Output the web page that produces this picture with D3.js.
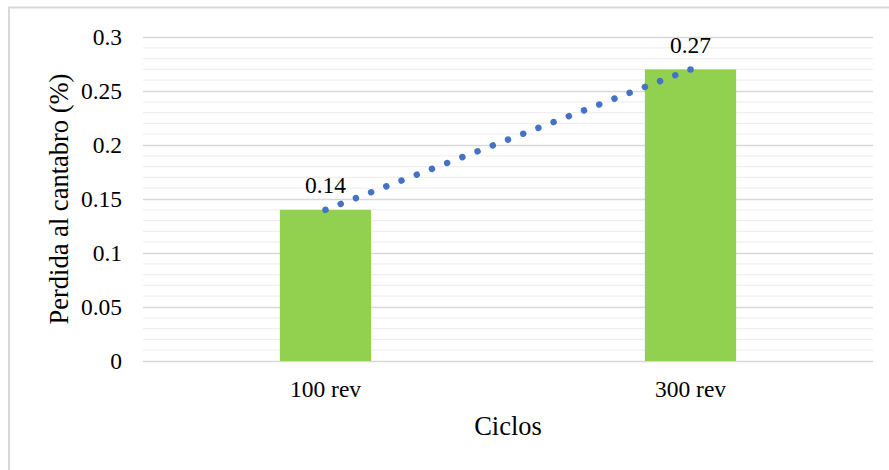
<!DOCTYPE html>
<html>
<head>
<meta charset="utf-8">
<script src="https://cdn.jsdelivr.net/npm/d3@7"></script>
<style>
  html, body { margin: 0; padding: 0; background: #fff; }
  svg { display: block; }
  text { font-family: "Liberation Serif", "Times New Roman", serif; fill: #000; }
</style>
</head>
<body>
<svg id="chart" width="889" height="470"></svg>
<script>
// Chart data
const categories = ["100 rev", "300 rev"];
const values = [0.14, 0.27];
const valueLabels = ["0.14", "0.27"];
const yTicks = [0, 0.05, 0.1, 0.15, 0.2, 0.25, 0.3];
const yTickLabels = ["0", "0.05", "0.1", "0.15", "0.2", "0.25", "0.3"];
const yTitle = "Perdida al cantabro (%)";
const xTitle = "Ciclos";

const svg = d3.select("#chart");
const plot = { left: 143, right: 873, top: 37, bottom: 361 };

// Outer chart frame
svg.append("rect")
  .attr("x", 9).attr("y", 7.5)
  .attr("width", 920).attr("height", 500)
  .attr("fill", "none")
  .attr("stroke", "#d9d9d9")
  .attr("stroke-width", 2);

const x = d3.scaleBand().domain(categories).range([plot.left, plot.right]).padding(0);
const y = d3.scaleLinear().domain([0, 0.3]).range([plot.bottom, plot.top]);

// Minor gridlines every 0.01
const minor = d3.range(1, 30).map(i => i / 100).filter(v => Math.round(v * 100) % 5 !== 0);
svg.append("g").selectAll("line").data(minor).join("line")
  .attr("x1", plot.left).attr("x2", plot.right)
  .attr("y1", d => y(d)).attr("y2", d => y(d))
  .attr("stroke", "#efefef").attr("stroke-width", 1.3);

// Major gridlines and y axis labels
const yAxis = d3.axisLeft(y).tickValues(yTicks)
  .tickFormat((d, i) => yTickLabels[i])
  .tickSize(-(plot.right - plot.left)).tickPadding(21);
const gy = svg.append("g").attr("transform", `translate(${plot.left},0)`).call(yAxis);
gy.select(".domain").remove();
gy.selectAll(".tick line").attr("stroke", "#d9d9d9").attr("stroke-width", 1.6);
gy.selectAll(".tick text")
  .attr("font-size", 23.5)
  .attr("font-family", "Liberation Serif, Times New Roman, serif")
  .attr("fill", "#000");

// Bars
const barW = x.bandwidth() * 0.25;
svg.append("g").selectAll("rect").data(values).join("rect")
  .attr("x", (d, i) => x(categories[i]) + x.bandwidth() / 2 - barW / 2)
  .attr("y", d => y(d))
  .attr("width", barW)
  .attr("height", d => y(0) - y(d))
  .attr("fill", "#92d050");

// Dotted linear trend line through the bar tops
const pts = values.map((v, i) => [x(categories[i]) + x.bandwidth() / 2, y(v)]);
const len = Math.hypot(pts[1][0] - pts[0][0], pts[1][1] - pts[0][1]);
const gap = len / 24;
svg.append("path")
  .attr("d", d3.line()(pts))
  .attr("fill", "none")
  .attr("stroke", "#4472c4")
  .attr("stroke-width", 6.5)
  .attr("stroke-linecap", "round")
  .attr("stroke-dasharray", `0.01 ${gap - 0.01}`);

// Value labels
svg.append("g").selectAll("text").data(values).join("text")
  .attr("x", (d, i) => x(categories[i]) + x.bandwidth() / 2)
  .attr("y", d => y(d) - 16.5)
  .attr("text-anchor", "middle")
  .attr("font-size", 23.5)
  .text((d, i) => valueLabels[i]);

// X axis category labels
const xAxis = d3.axisBottom(x).tickSize(0).tickPadding(0);
const gx = svg.append("g").attr("transform", `translate(0,${plot.bottom})`).call(xAxis);
gx.select(".domain").remove();
gx.selectAll(".tick text")
  .attr("dy", 0).attr("y", 36)
  .attr("font-size", 23.5)
  .attr("font-family", "Liberation Serif, Times New Roman, serif")
  .attr("fill", "#000");

// Axis titles
svg.append("text")
  .attr("x", (plot.left + plot.right) / 2)
  .attr("y", 435)
  .attr("text-anchor", "middle")
  .attr("font-size", 26.5)
  .text(xTitle);

svg.append("text")
  .attr("transform", `translate(68,${(plot.top + plot.bottom) / 2}) rotate(-90)`)
  .attr("text-anchor", "middle")
  .attr("font-size", 26.5)
  .text(yTitle);
</script>
</body>
</html>
